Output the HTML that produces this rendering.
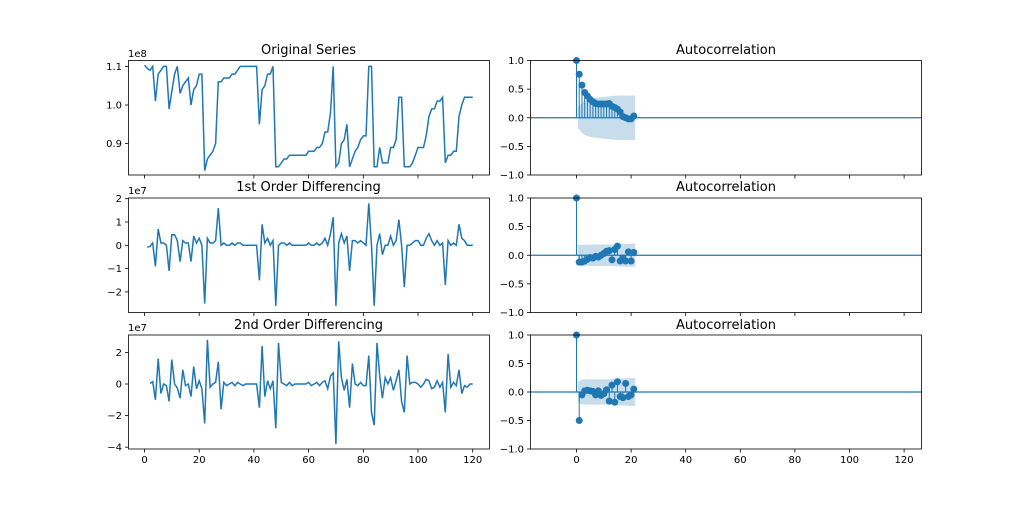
<!DOCTYPE html>
<html><head><meta charset="utf-8"><style>
body{margin:0;background:#fff}
svg{display:block}
text{font-family:"DejaVu Sans","Liberation Sans",sans-serif;fill:#000}
</style></head><body>
<svg id="s" width="1024" height="505" xmlns="http://www.w3.org/2000/svg">
<text x="308.5" y="54" font-size="13" text-anchor="middle">Original Series</text>
<text x="308.5" y="191" font-size="13" text-anchor="middle">1st Order Differencing</text>
<text x="308.5" y="329" font-size="13" text-anchor="middle">2nd Order Differencing</text>
<text x="726" y="54" font-size="13" text-anchor="middle">Autocorrelation</text>
<text x="726" y="191" font-size="13" text-anchor="middle">Autocorrelation</text>
<text x="726" y="329" font-size="13" text-anchor="middle">Autocorrelation</text>
<text x="128" y="57" font-size="10">1e8</text>
<text x="128" y="194" font-size="10">1e7</text>
<text x="128" y="331" font-size="10">1e7</text>
</svg>
<script>
const S=document.getElementById('s');const NS='http://www.w3.org/2000/svg';
function el(t,a,txt){const e=document.createElementNS(NS,t);for(const k in a)e.setAttribute(k,a[k]);if(txt!==undefined)e.textContent=txt;S.appendChild(e);return e;}
const C='#1f77b4';
const y=[110.3,109.5,109,110,101,108,109,110,110,99,103.5,108,110,103,105,106,107,100,104,105,108,108,83,86,87,88,90,106,106,107,107,107,108,108,109,110,110,110,110,110,110,110,95,104,105,108,108,110,84,84,85,86,86,87,87,87,87,87,87,87,88,88,88,89,89,90,93,93,98,110,84,85,90,91,95,84,86,88,89,91,92,92,110,110,84,84,89,85,85,85,89,89,91,102,102,84,84,84,85,87,89,89,89,92,97,99,99,101,101,102,85,87,87,88,88,97,100,102,102,102,102];
while(y.length>121)y.splice(68,1);
const d1=[],d2=[];for(let i=1;i<y.length;i++)d1.push(y[i]-y[i-1]);for(let i=1;i<d1.length;i++)d2.push(d1[i]-d1[i-1]);
const LX=v=>144.5+v*2.735, RX=v=>576.5+v*2.73;
const rows=[[60.5,175],[198,312.5],[335,449]];
const ymaps=[v=>105-(v-100)*3.86, v=>245.3-v*2.33, v=>384-v*1.58];
const yt=[[[110,'1.1'],[100,'1.0'],[90,'0.9']],[[20,'2'],[10,'1'],[0,'0'],[-10,'−1'],[-20,'−2']],[[20,'2'],[0,'0'],[-20,'−2'],[-40,'−4']]];
const ACF=[
[1,0.76,0.57,0.44,0.38,0.32,0.28,0.25,0.24,0.24,0.24,0.24,0.25,0.2,0.18,0.15,0.1,0.02,0.0,-0.02,-0.02,0.03],
[1,-0.12,-0.12,-0.1,-0.07,-0.04,-0.05,-0.02,-0.03,0.0,0.03,0.07,0.08,-0.08,0.1,0.16,-0.1,-0.05,-0.1,0.06,-0.1,0.05],
[1,-0.5,-0.05,0.02,0.03,0.02,0.01,-0.05,0.02,-0.06,-0.03,0.04,-0.16,0.12,-0.18,0.18,-0.08,-0.1,0.15,-0.08,-0.05,0.05]];
const series=[[y,0],[d1,1],[d2,2]];
series.forEach(([arr,off],r)=>{
 const [t,b]=rows[r];const m=ymaps[r];
 let p=arr.map((v,i)=>LX(i+off).toFixed(1)+','+m(v).toFixed(1)).join(' ');
 el('polyline',{points:p,fill:'none',stroke:C,'stroke-width':1.5});
 el('rect',{x:128.5,y:t,width:361,height:b-t,fill:'none',stroke:'#000','stroke-width':0.8});
 yt[r].forEach(([v,l])=>{const yy=m(v);el('line',{x1:125,x2:128.5,y1:yy,y2:yy,stroke:'#000','stroke-width':0.8});el('text',{x:122,y:yy+3.5,'font-size':10,'text-anchor':'end'},l);});
 for(let v=0;v<=120;v+=20){el('line',{x1:LX(v),x2:LX(v),y1:b,y2:b+3.5,stroke:'#000','stroke-width':0.8});if(r==2)el('text',{x:LX(v),y:b+14,'font-size':10,'text-anchor':'middle'},v);}
 const n=arr.length;const acf=ACF[r];
 const RY=v=>t+(1-v)*(b-t)/2;
 let up=[],lo=[];let ss=0;
 for(let k=1;k<=21;k++){const se=1.96*Math.sqrt((1+2*ss)/n);ss+=acf[k]**2;const xx=k==1?RX(0.5):(k==21?RX(21.5):RX(k));up.push(xx+','+RY(se));lo.unshift(xx+','+RY(-se));}
 el('polygon',{points:up.concat(lo).join(' '),fill:C,'fill-opacity':0.25,stroke:'none'});
 el('line',{x1:530.5,x2:921.5,y1:RY(0),y2:RY(0),stroke:C,'stroke-width':1.3});
 acf.forEach((v,k)=>{el('line',{x1:RX(k),x2:RX(k),y1:RY(0),y2:RY(v),stroke:C,'stroke-width':1});});
 acf.forEach((v,k)=>{el('circle',{cx:RX(k),cy:RY(v),r:3.5,fill:C});});
 el('rect',{x:530.5,y:t,width:391,height:b-t,fill:'none',stroke:'#000','stroke-width':0.8});
 [[1,'1.0'],[0.5,'0.5'],[0,'0.0'],[-0.5,'−0.5'],[-1,'−1.0']].forEach(([v,l])=>{const yy=RY(v);el('line',{x1:527,x2:530.5,y1:yy,y2:yy,stroke:'#000','stroke-width':0.8});el('text',{x:524,y:yy+3.5,'font-size':10,'text-anchor':'end'},l);});
 for(let v=0;v<=120;v+=20){el('line',{x1:RX(v),x2:RX(v),y1:b,y2:b+3.5,stroke:'#000','stroke-width':0.8});if(r==2)el('text',{x:RX(v),y:b+14,'font-size':10,'text-anchor':'middle'},v);}
});
</script>
</body></html>
